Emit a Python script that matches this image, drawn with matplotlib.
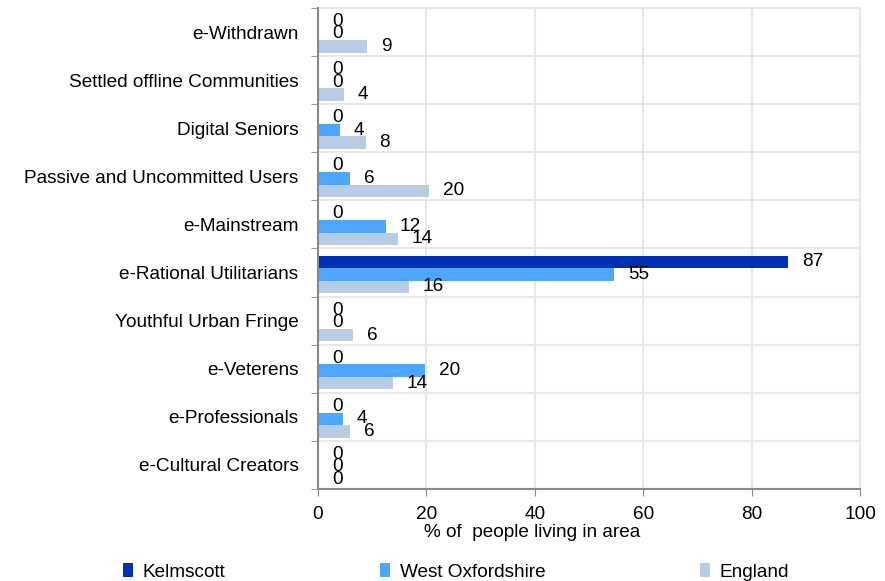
import matplotlib
matplotlib.use("Agg")
import matplotlib.pyplot as plt
import numpy as np

categories = ["e-Cultural Creators", "e-Professionals", "e-Veterens", "Youthful Urban Fringe",
              "e-Rational Utilitarians", "e-Mainstream", "Passive and Uncommitted Users",
              "Digital Seniors", "Settled offline Communities", "e-Withdrawn"]
series_names = ["Kelmscott", "West Oxfordshire", "England"]
kelmscott = [0, 0, 0, 0, 86.7, 0, 0, 0, 0, 0]
west_oxon = [0, 4.6, 19.8, 0, 54.6, 12.5, 5.9, 4.0, 0, 0]
england = [0, 5.9, 13.8, 6.4, 16.7, 14.7, 20.5, 8.8, 4.8, 9.0]
kelmscott_labels = [0, 0, 0, 0, 87, 0, 0, 0, 0, 0]
west_oxon_labels = [0, 4, 20, 0, 55, 12, 6, 4, 0, 0]
england_labels = [0, 6, 14, 6, 16, 14, 20, 8, 4, 9]
colors = ["#0030B4", "#4DA6FF", "#B8CCE4"]
x_ticks = [0, 20, 40, 60, 80, 100]
xlabel = "% of  people living in area"

FS = 13.7
plt.rcParams['font.family'] = ['Liberation Sans', 'DejaVu Sans']
fig = plt.figure(figsize=(8.85, 5.81), dpi=100)
ax = fig.add_axes([318/885, 1-489/581, (860-318)/885, (489-8)/581])

y = np.arange(len(categories))
h = 0.26
data = [kelmscott, west_oxon, england]
labels = [kelmscott_labels, west_oxon_labels, england_labels]
offsets = [h - 0.04, -0.04, -h - 0.04]
for vals, labs, off, col, name in zip(data, labels, offsets, colors, series_names):
    ax.barh(y + off, vals, height=h, color=col, label=name, zorder=3)
    for v, l, yy in zip(vals, labs, y + off):
        ax.annotate(str(l), xy=(v, yy), xytext=(10, 0), textcoords="offset points",
                    ha="left", va="center", fontsize=FS, color="#000000", zorder=4)

ax.set_xlim(0, 100)
ax.set_ylim(-0.5, len(categories) - 0.5)
ax.set_xticks(x_ticks)
ax.set_xticklabels([str(t) for t in x_ticks], fontsize=FS)
ax.set_yticks(y)
ax.set_yticklabels(categories, fontsize=FS)
ax.set_yticks(np.arange(-0.5, len(categories), 1.0), minor=True)
ax.tick_params(axis="y", which="major", length=0, pad=14)
ax.tick_params(axis="y", which="minor", length=5, color="#888888", direction="out")
ax.tick_params(axis="x", which="major", length=5, color="#888888", direction="out", pad=7)
ax.grid(True, axis="x", which="major", color="#E8E8E8", lw=1.5, zorder=0)
ax.grid(True, axis="y", which="minor", color="#E8E8E8", lw=1.5, zorder=0)
for s in ["top", "right"]:
    ax.spines[s].set_color("#E8E8E8")
    ax.spines[s].set_linewidth(1.5)
for s in ["left", "bottom"]:
    ax.spines[s].set_color("#888888")
    ax.spines[s].set_linewidth(1.5)
    ax.spines[s].set_zorder(5)
ax.set_xlabel(xlabel, fontsize=FS, labelpad=2)
ax.xaxis.set_label_coords((532 - 318) / 542, -0.073)

fig.legend(loc="center", bbox_to_anchor=(456/885, 1-572/581), ncol=3, frameon=False,
           fontsize=FS, handlelength=0.55, handleheight=0.7, columnspacing=8.1,
           handletextpad=0.5)
fig.savefig("out.png", dpi=100)
